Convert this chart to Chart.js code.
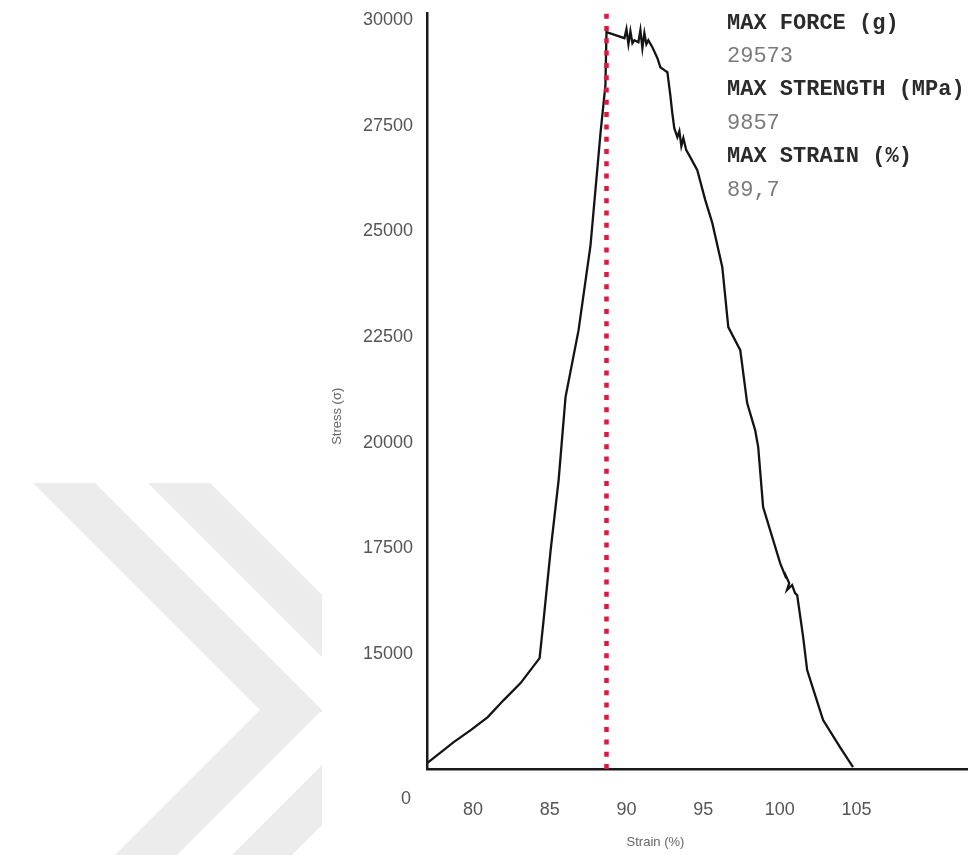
<!DOCTYPE html>
<html>
<head>
<meta charset="utf-8">
<title>Stress - Strain</title>
<script src="https://cdn.jsdelivr.net/npm/chart.js@4.4.0/dist/chart.umd.min.js"></script>
<style>
    html, body { margin: 0; padding: 0; background: #ffffff; }
    #wrap { position: relative; width: 968px; height: 855px; overflow: hidden; }
    #mark { position: absolute; left: 0; top: 0; }
    #chart { position: absolute; left: 0; top: 0; }
</style>
</head>
<body>
<div id="wrap">
    <!-- faint watermark chevrons behind the chart -->
    <svg id="mark" width="322" height="855">
        <g fill="#ececec">
            <polygon points="33,483 95,483 322,710 322,712 260,710" />
            <polygon points="260,710 322,710 177,855 115,855" />
            <polygon points="148,483 210,483 322,595 322,657" />
            <polygon points="322,765 322,825 292,855 232,855" />
        </g>
    </svg>
    <div style="position:absolute;left:0;top:0;width:968px;height:855px;">
        <canvas id="chart"></canvas>
    </div>
</div>
<script>
// strain (%) / stress pairs
const strainData = [
    77.05, 78.74, 79.85, 80.96, 82.00, 83.10, 84.34, 84.60, 85.06, 85.58,
    86.03, 86.88, 87.66, 88.31, 88.63, 88.70,
    89.48, 89.87, 90.00, 90.13, 90.26, 90.39, 90.52, 90.78, 90.91, 91.04,
    91.17, 91.30, 91.43, 91.69, 92.02, 92.21, 92.47, 92.67, 92.86, 92.99,
    93.12, 93.32, 93.45, 93.58, 93.71, 93.90, 94.16, 94.62, 95.14, 95.60,
    96.25, 96.64, 97.42, 97.87, 98.39, 98.59, 98.91, 100.02, 100.15, 100.41,
    100.28, 100.61, 100.47, 100.80, 100.99, 101.13, 101.52, 101.78, 102.30, 102.82,
    103.92, 104.77
];
const stressData = [
    12430, 12917, 13201, 13509, 13911, 14313, 14905, 15804, 17460, 19116,
    21080, 22665, 24677, 27326, 28462, 29716,
    29621, 29574, 29787, 29432, 29740, 29456, 29527, 29479, 29763, 29338,
    29692, 29432, 29527, 29361, 29101, 28888, 28817, 28770, 28226, 27800,
    27445, 27232, 27374, 27019, 27208, 26924, 26759, 26451, 25741, 25197,
    24156, 22736, 22192, 20938, 20299, 19897, 18478, 17153, 17034, 16798,
    16940, 16680, 16514, 16633, 16443, 16396, 15402, 14621, 14030, 13438,
    12799, 12326
];

const xTickValues = [80, 85, 90, 95, 100, 105];
const yTickValues = [15000, 17500, 20000, 22500, 25000, 27500, 30000];
const originLabel = "0";

const xRange = [77.0, 112.2];
const yRange = [12280, 30170];

const maxStrainLine = 88.7;

const statLabels = ["MAX FORCE (g)", "MAX STRENGTH (MPa)", "MAX STRAIN (%)"];
const statValues = ["29573", "9857", "89,7"];

const xTitle = "Strain (%)";
const yTitle = "Stress (\u03c3)";

const curvePoints = strainData.map(function(s, i)
{
    return { x: s, y: stressData[i] };
});

const dottedPoints = [
    { x: maxStrainLine, y: yRange[0] },
    { x: maxStrainLine, y: yRange[1] }
];

// "0" at the corner and the max values block at top right
const extrasPlugin =
{
    id: "extras",
    afterDraw: function(chart)
    {
        const ctx = chart.ctx;
        const area = chart.chartArea;
        ctx.save();

        ctx.font = "18px 'Liberation Sans', Arial, sans-serif";
        ctx.fillStyle = "#555555";
        ctx.textAlign = "center";
        ctx.textBaseline = "middle";
        ctx.fillText(originLabel, area.left - 21, area.bottom + 30);

        ctx.textAlign = "left";
        const left = area.right - 240;
        let y = 23;
        for (let i = 0; i < statLabels.length; i++)
        {
            ctx.font = "bold 22px 'Liberation Mono', 'Courier New', monospace";
            ctx.fillStyle = "#2b2b2b";
            ctx.fillText(statLabels[i], left, y);
            y += 33.4;
            ctx.font = "22px 'Liberation Mono', 'Courier New', monospace";
            ctx.fillStyle = "#7a7a7a";
            ctx.fillText(statValues[i], left, y);
            y += 33.4;
        }
        ctx.restore();
    }
};

const ctx = document.getElementById("chart").getContext("2d");

new Chart(ctx,
{
    type: "line",
    data:
    {
        datasets: [
            {
                label: "max strain",
                data: dottedPoints,
                borderColor: "#e0173d",
                borderWidth: 4.5,
                borderDash: [5, 7.3],
                borderCapStyle: "butt",
                pointRadius: 0,
                fill: false,
                order: 0
            },
            {
                label: "stress",
                data: curvePoints,
                borderColor: "#141414",
                borderWidth: 2.3,
                pointRadius: 0,
                tension: 0,
                fill: false,
                order: 1
            }
        ]
    },
    options:
    {
        responsive: true,
        maintainAspectRatio: false,
        animation: false,
        devicePixelRatio: 1,
        layout: { padding: { left: 0, right: 1, top: 13, bottom: 0 } },
        plugins:
        {
            legend: { display: false },
            tooltip: { enabled: false }
        },
        scales:
        {
            x:
            {
                type: "linear",
                min: xRange[0],
                max: xRange[1],
                grid: { display: false, drawTicks: false },
                border: { display: true, color: "#1a1a1a", width: 2.5 },
                ticks:
                {
                    padding: 30,
                    color: "#555555",
                    font: { family: "'Liberation Sans', Arial, sans-serif", size: 18 },
                    callback: function(value) { return String(value); }
                },
                title:
                {
                    display: true,
                    text: xTitle + " ".repeat(23),
                    color: "#666666",
                    font: { family: "'Liberation Sans', Arial, sans-serif", size: 13 },
                    padding: { top: 0, bottom: 5 }
                },
                afterBuildTicks: function(scale)
                {
                    scale.ticks = xTickValues.map(function(v) { return { value: v }; });
                },
                afterFit: function(scale)
                {
                    scale.height = 86;
                    scale.paddingLeft = 0;
                    scale.paddingRight = 0;
                }
            },
            y:
            {
                type: "linear",
                min: yRange[0],
                max: yRange[1],
                grid: { display: false, drawTicks: false },
                border: { display: true, color: "#1a1a1a", width: 2.5 },
                ticks:
                {
                    padding: 14,
                    color: "#555555",
                    font: { family: "'Liberation Sans', Arial, sans-serif", size: 18 },
                    callback: function(value) { return String(value); }
                },
                title:
                {
                    display: true,
                    text: yTitle + " ".repeat(14),
                    color: "#666666",
                    font: { family: "'Liberation Sans', Arial, sans-serif", size: 13 },
                    padding: { top: 330, bottom: 0 }
                },
                afterBuildTicks: function(scale)
                {
                    scale.ticks = yTickValues.map(function(v) { return { value: v }; });
                },
                afterFit: function(scale)
                {
                    scale.width = 427;
                    scale.paddingTop = 0;
                    scale.paddingBottom = 0;
                }
            }
        }
    },
    plugins: [extrasPlugin]
});
</script>
</body>
</html>
